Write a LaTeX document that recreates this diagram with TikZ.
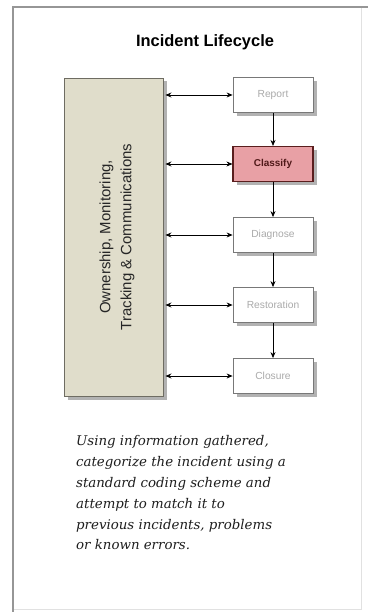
\documentclass[tikz,border=0pt]{standalone}
\usepackage{fontspec}
\setmainfont{Liberation Sans}
\newfontfamily\notefont{DejaVu Serif}
\usetikzlibrary{arrows.meta,shadows}
\definecolor{panelline}{RGB}{150,150,150}
\definecolor{panelfaint}{RGB}{225,225,225}
\definecolor{tanfill}{RGB}{224,221,203}
\definecolor{tanedge}{RGB}{110,108,98}
\definecolor{boxedge}{RGB}{120,120,120}
\definecolor{boxtext}{RGB}{170,170,170}
\definecolor{hotfill}{RGB}{232,160,165}
\definecolor{hotedge}{RGB}{90,30,30}
\definecolor{hottext}{RGB}{80,25,25}
\definecolor{notetext}{RGB}{30,30,30}
\tikzset{
  x=1bp, y=-1bp,
  stagebox/.style={draw=boxedge, line width=0.8bp, fill=white,
    minimum width=80bp, minimum height=35bp, inner sep=0pt,
    font=\fontsize{10.3}{12}\selectfont, text=boxtext,
    drop shadow={shadow xshift=3.5bp, shadow yshift=-3.5bp, fill=black!55, opacity=0.55}},
  hotbox/.style={stagebox, draw=hotedge, line width=1.1bp, fill=hotfill,
    text=hottext, font=\fontsize{10}{12}\selectfont\bfseries},
  flow/.style={-{Stealth[length=6bp,width=5bp]}, line width=0.8bp, black},
  link/.style={{Stealth[length=6bp,width=5bp]}-{Stealth[length=6bp,width=5bp]}, line width=0.8bp, black},
}
\begin{document}
\begin{tikzpicture}
\useasboundingbox (0,0) rectangle (368,612);
\fill[white] (0,0) rectangle (368,612);
% panel frame: light right/bottom edges, darker top/left edges
\draw[panelfaint, line width=1bp] (361,7) -- (361,609) -- (13,609);
\draw[panelline, line width=1.4bp] (13,612) -- (13,7) -- (368,7);

% title
\node (title) at (205,42) {\fontsize{16.5}{19}\selectfont\bfseries Incident Lifecycle};

% side bar
\node[draw=tanedge, line width=0.9bp, fill=tanfill, minimum width=99bp,
      minimum height=318bp, inner sep=0pt,
      drop shadow={shadow xshift=3.5bp, shadow yshift=-3.5bp, fill=black!55, opacity=0.55}]
  (bar) at (114,237) {};
\node[rotate=90, align=center, font=\fontsize{15}{21}\selectfont, text=black!85]
  (bartext) at (117,237) {Ownership, Monitoring,\\Tracking \& Communications};

% stages
\node[stagebox] (report) at (273,95) {Report};
\node[hotbox]   (classify) at (273,164) {Classify};
\node[stagebox] (diagnose) at (273,235) {Diagnose};
\node[stagebox] (restore) at (273,305) {Restoration};
\node[stagebox] (closure) at (273,376) {Closure};

% stage flow
\draw[flow] (report) -- (classify);
\draw[flow] (classify) -- (diagnose);
\draw[flow] (diagnose) -- (restore);
\draw[flow] (restore) -- (closure);

% links to side bar
\foreach \s in {report,classify,diagnose,restore,closure}
  \draw[link] (bar.east |- \s.west) ++(1.5,0) -- (\s.west);

% description
\node[anchor=north west, align=left, inner sep=0pt, text=notetext,
      font=\notefont\itshape\fontsize{13.4}{21}\selectfont]
  (note) at (76,435) {Using information gathered,\\
  categorize the incident using a\\
  standard coding scheme and\\
  attempt to match it to\\
  previous incidents, problems\\
  or known errors.};
\end{tikzpicture}
\end{document}
